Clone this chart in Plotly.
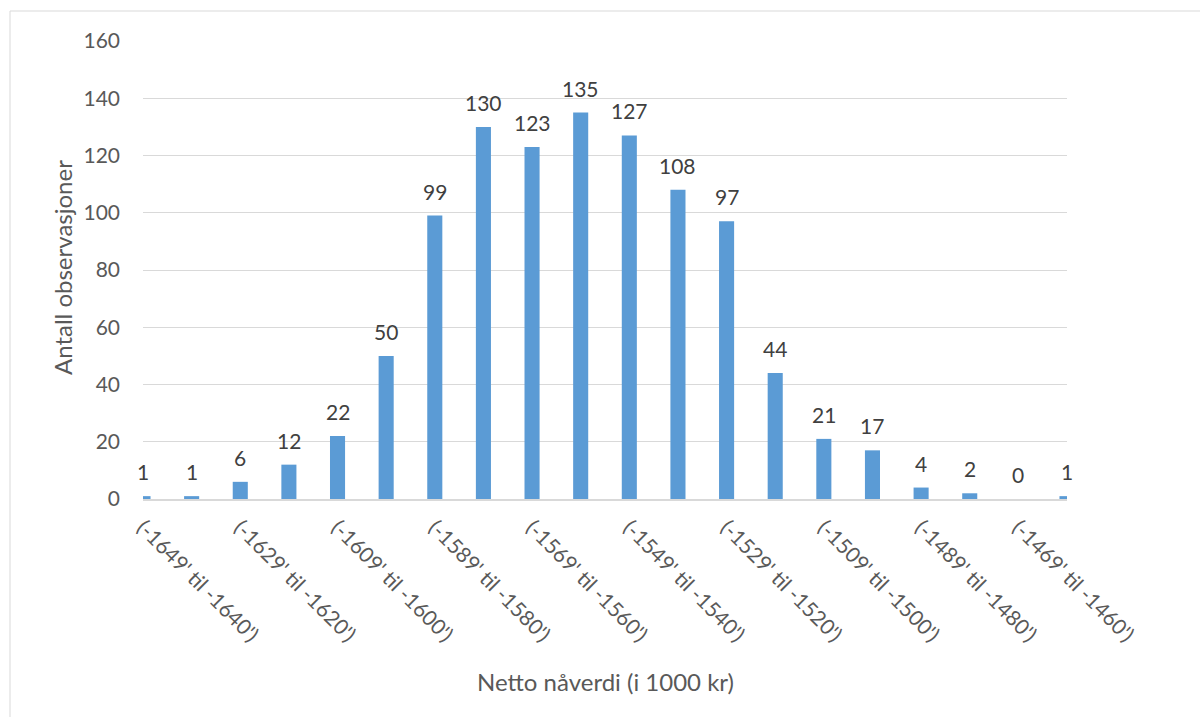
import plotly.graph_objects as go

# Histogram of net present value outcomes (bins of 10, in 1000 kr)
categories = [
    "(-1649' til -1640')", "(-1639' til -1630')", "(-1629' til -1620')", "(-1619' til -1610')",
    "(-1609' til -1600')", "(-1599' til -1590')", "(-1589' til -1580')", "(-1579' til -1570')",
    "(-1569' til -1560')", "(-1559' til -1550')", "(-1549' til -1540')", "(-1539' til -1530')",
    "(-1529' til -1520')", "(-1519' til -1510')", "(-1509' til -1500')", "(-1499' til -1490')",
    "(-1489' til -1480')", "(-1479' til -1470')", "(-1469' til -1460')", "(-1459' til -1450')",
]
counts = [1, 1, 6, 12, 22, 50, 99, 130, 123, 135, 127, 108, 97, 44, 21, 17, 4, 2, 0, 1]
y_ticks = [0, 20, 40, 60, 80, 100, 120, 140, 160]

# Only every other bin gets a tick label; bins are plotted by index
positions = list(range(len(counts)))
shown_pos = positions[::2]
shown_txt = [categories[i] for i in shown_pos]

FONT = "Lato, Carlito, Calibri, sans-serif"
W, H = 1200, 717
L, R, T, B = 143, 133, 41, 218
pw, ph = W - L - R, H - T - B

fig = go.Figure()
fig.add_trace(go.Bar(
    x=positions, y=counts,
    marker=dict(color="#5B9BD5", line=dict(width=0)),
    width=0.31,
    hoverinfo="x+y",
))

# value labels above each bar
for xi, v in zip(positions, counts):
    fig.add_annotation(
        x=xi, y=v, xref="x", yref="y", text=str(v), showarrow=False,
        yanchor="bottom", yshift=10,
        font=dict(family=FONT, size=21, color="#404040"),
    )

# axis titles
fig.add_annotation(
    x=0.5, y=(H - 681 - B) / ph, xref="paper", yref="paper",
    text="Netto nåverdi (i 1000 kr)", showarrow=False,
    font=dict(family=FONT, size=24, color="#595959"),
    xanchor="center", yanchor="middle",
)
fig.add_annotation(
    x=(62 - L) / pw, y=(H - 268 - B) / ph, xref="paper", yref="paper",
    text="Antall observasjoner", showarrow=False, textangle=-90,
    font=dict(family=FONT, size=24, color="#595959"),
    xanchor="center", yanchor="middle",
)

# chart-area border
fig.add_shape(
    type="rect", xref="paper", yref="paper",
    x0=(10 - L) / pw, x1=(W + 10 - L) / pw,
    y0=(H - (H + 10) - B) / ph, y1=(H - 11 - B) / ph,
    line=dict(color="#D9D9D9", width=1), fillcolor="rgba(0,0,0,0)", layer="below",
)

fig.update_layout(
    width=W, height=H,
    margin=dict(l=L, r=R, t=T, b=B, pad=0),
    paper_bgcolor="white", plot_bgcolor="white",
    showlegend=False,
    font=dict(family=FONT, size=21, color="#595959"),
    bargap=0.69,
)
fig.update_xaxes(
    range=[0, len(counts) - 1],
    tickmode="array", tickvals=shown_pos, ticktext=shown_txt,
    tickangle=45, ticks="", showgrid=False, zeroline=False,
    showline=True, linecolor="#D9D9D9", linewidth=2,
    ticklabelstandoff=6,
    tickfont=dict(family=FONT, size=21, color="#595959"),
)
fig.update_yaxes(
    range=[0, 160], tickmode="array", tickvals=y_ticks,
    showgrid=True, gridcolor="#D9D9D9", gridwidth=1,
    zeroline=False, showline=False, ticks="", ticklabelstandoff=22,
    tickfont=dict(family=FONT, size=21, color="#595959"),
)

fig.write_html("out.html")
